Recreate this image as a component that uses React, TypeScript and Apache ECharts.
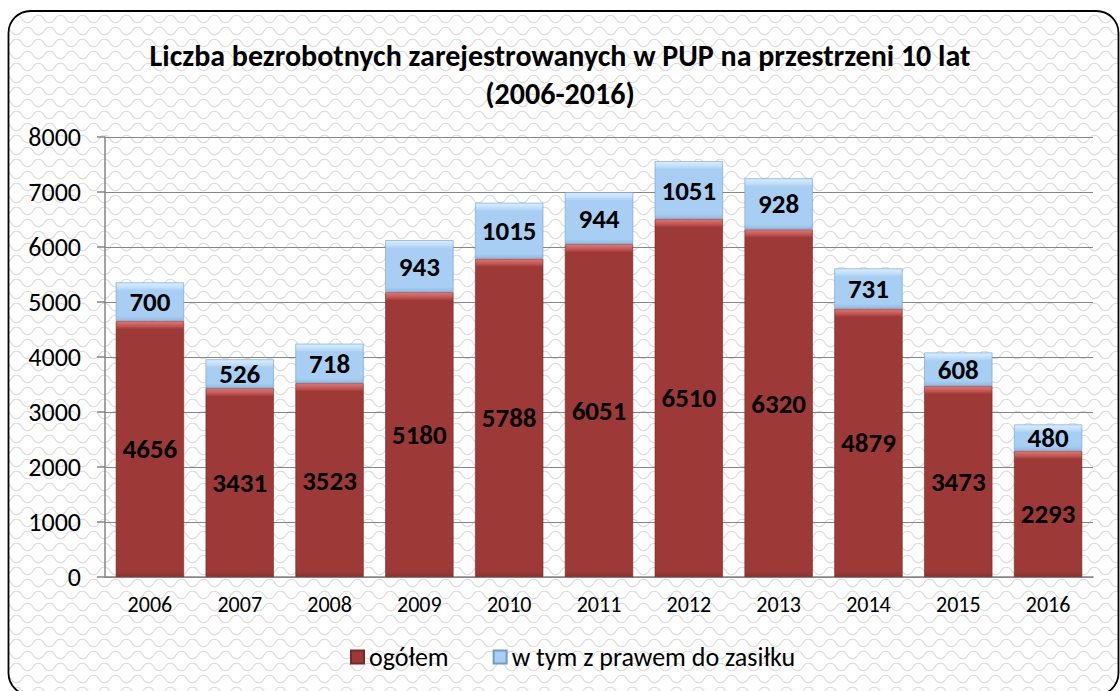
import React, { useEffect, useRef } from "react";
import * as echarts from "echarts";

const years = ["2006", "2007", "2008", "2009", "2010", "2011", "2012", "2013", "2014", "2015", "2016"];
const totalValues = [4656, 3431, 3523, 5180, 5788, 6051, 6510, 6320, 4879, 3473, 2293];
const benefitValues = [700, 526, 718, 943, 1015, 944, 1051, 928, 731, 608, 480];
const seriesNames = ["ogółem", "w tym z prawem do zasiłku"];
const titleText = "Liczba bezrobotnych zarejestrowanych w PUP na przestrzeni 10 lat\n(2006-2016)";

const FONT = "Carlito, Calibri, Lato, 'Open Sans', sans-serif";

const tileSvg =
  "<svg xmlns='http://www.w3.org/2000/svg' width='22' height='24'>" +
  "<path d='M0 7 C3 2 8 2 11 7 C14 12 19 12 22 7' fill='none' stroke='%23d9d9d9' stroke-width='1.1'/>" +
  "<path d='M-11 19 C-8 14 -3 14 0 19 C3 24 8 24 11 19 C14 14 19 14 22 19 C25 24 30 24 33 19' fill='none' stroke='%23d9d9d9' stroke-width='1.1'/>" +
  "</svg>";
const tileUrl = "data:image/svg+xml;charset=utf-8," + tileSvg.replace(/</g, "%3C").replace(/>/g, "%3E").replace(/'/g, "%27").replace(/ /g, "%20");

const PX_PER_UNIT = 440 / 8000;
const BEVEL = 8;

function bevel(v: number, top: string, mid: string, main: string, bottom: string) {
  const f = Math.min(0.45, BEVEL / (v * PX_PER_UNIT));
  return new echarts.graphic.LinearGradient(0, 0, 0, 1, [
    { offset: 0, color: top },
    { offset: f * 0.6, color: mid },
    { offset: f, color: main },
    { offset: Math.max(f + 0.002, 1 - f * 0.6), color: main },
    { offset: 1, color: bottom },
  ]);
}

export default function App() {
  const ref = useRef<HTMLDivElement>(null);
  useEffect(() => {
    document.body.style.margin = "0";
    if (!ref.current) return;
    const chart = echarts.init(ref.current, null, { renderer: "svg" });
    const redData = totalValues.map((v) => ({
      value: v,
      itemStyle: { color: bevel(v, "#e07874", "#c35653", "#9d3a38", "#88302e") },
    }));
    const blueData = benefitValues.map((v) => ({
      value: v,
      itemStyle: { color: bevel(v, "#d9eefe", "#c0dff9", "#a8cff3", "#8fbbe4") },
    }));
    chart.setOption({
      animation: false,
      backgroundColor: "#ffffff",
      graphic: [
        {
          type: "rect",
          z: -10,
          silent: true,
          shape: { x: 8.5, y: 11, width: 1110, height: 684, r: 22 },
          style: {
            fill: { image: tileUrl, repeat: "repeat", imageWidth: 22, imageHeight: 24 } as any,
            stroke: "#000000",
            lineWidth: 1.8,
          },
        },
      ],
      title: {
        text: titleText,
        left: "center",
        top: 31,
        textStyle: { fontFamily: FONT, fontSize: 30, fontWeight: "bold", color: "#000", lineHeight: 38 },
      },
      legend: {
        bottom: 16,
        left: 345,
        itemWidth: 13,
        itemHeight: 13,
        itemGap: 44,
        icon: "rect",
        textStyle: { fontFamily: FONT, fontSize: 26, color: "#000" },
        data: seriesNames,
      },
      grid: { left: 105, right: 27, top: 137, bottom: 114 },
      xAxis: {
        type: "category",
        data: years,
        axisLine: { lineStyle: { color: "#868686", width: 1.5 } },
        axisTick: { length: 7, lineStyle: { color: "#868686", width: 1.5 } },
        axisLabel: { fontFamily: FONT, fontSize: 22, color: "#000", margin: 16 },
      },
      yAxis: {
        type: "value",
        min: 0,
        max: 8000,
        interval: 1000,
        axisLine: { show: true, lineStyle: { color: "#868686", width: 1.5 } },
        axisTick: { show: true, length: 8, lineStyle: { color: "#868686", width: 1.5 } },
        splitLine: { lineStyle: { color: "#868686", width: 1.2 } },
        axisLabel: { fontFamily: FONT, fontSize: 26, color: "#000", margin: 24, formatter: (v: number) => String(v) },
      },
      series: [
        {
          name: seriesNames[0],
          type: "bar",
          stack: "a",
          barCategoryGap: "24%",
          data: redData,
          itemStyle: { color: "#9d3a38", borderColor: "#7a2826", borderWidth: 0.6 },
          label: {
            show: true,
            position: "inside",
            fontFamily: FONT,
            fontSize: 27,
            fontWeight: "bold",
            color: "#000",
          },
        },
        {
          name: seriesNames[1],
          type: "bar",
          stack: "a",
          data: blueData,
          itemStyle: { color: "#a8cff3", borderColor: "#6f9ccb", borderWidth: 0.6 },
          label: {
            show: true,
            position: "inside",
            fontFamily: FONT,
            fontSize: 27,
            fontWeight: "bold",
            color: "#000",
          },
        },
      ],
    });
    return () => chart.dispose();
  }, []);
  return <div ref={ref} style={{ width: 1120, height: 691 }} />;
}
